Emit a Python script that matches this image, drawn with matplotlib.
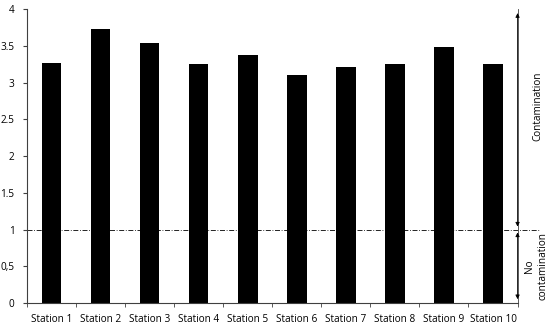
import numpy as np
import matplotlib.pyplot as plt

stations = ['Station 1', 'Station 2', 'Station 3', 'Station 4', 'Station 5',
            'Station 6', 'Station 7', 'Station 8', 'Station 9', 'Station 10']
values = [3.27, 3.73, 3.54, 3.26, 3.38, 3.10, 3.21, 3.25, 3.49, 3.26]
yticks = [0, 0.5, 1, 1.5, 2, 2.5, 3, 3.5, 4]
ytick_labels = ['0', '0,5', '1', '1.5', '2', '2.5', '3', '3.5', '4']
threshold = 1


def main():
    plt.rcParams['font.family'] = ['Open Sans', 'DejaVu Sans']

    fig = plt.figure(figsize=(5.5, 3.26), dpi=100)
    ax = fig.add_axes([0.049, 0.071, 0.892, 0.90])

    x = np.arange(len(stations))
    ax.bar(x, values, width=0.4, color='black')

    ax.set_xlim(-0.5, len(stations) - 0.5)
    ax.set_ylim(0, 4)

    ax.set_xticks(x)
    ax.set_xticklabels(stations, fontsize=7.2)
    ax.set_xticks(np.arange(len(stations) + 1) - 0.5, minor=True)
    ax.tick_params(axis='x', which='major', length=0, pad=8)
    ax.tick_params(axis='x', which='minor', length=3, direction='out', color='#404040')

    ax.set_yticks(yticks)
    ax.set_yticklabels(ytick_labels, fontsize=7.2)
    ax.tick_params(axis='y', length=3, color='#404040', pad=6)

    for side in ['top', 'right']:
        ax.spines[side].set_visible(False)
    for side in ['left', 'bottom']:
        ax.spines[side].set_color('#404040')
        ax.spines[side].set_linewidth(0.8)

    # threshold line
    xr = len(stations) - 0.5
    ax.plot([-0.5, xr + 0.45], [threshold, threshold], color='black', lw=0.6,
            linestyle=(0, (6, 2, 1, 2)), clip_on=False)

    # double arrows on the right
    ax.plot([xr, xr], [0, 4], color='#404040', lw=0.6, clip_on=False)
    arrow = dict(arrowstyle='<|-|>', color='black', lw=0.6,
                 mutation_scale=6, shrinkA=0, shrinkB=0)
    ax.annotate('', xy=(xr, 3.95), xytext=(xr, threshold + 0.04),
                arrowprops=arrow, annotation_clip=False)
    ax.annotate('', xy=(xr, threshold - 0.04), xytext=(xr, 0.05),
                arrowprops=arrow, annotation_clip=False)

    ax.text(xr + 0.42, 2.68, 'Contamination', rotation=90, fontsize=7.2,
            ha='center', va='center', clip_on=False)
    ax.text(xr + 0.38, 0.5, 'No\ncontamination', rotation=90, fontsize=7.2,
            ha='center', va='center', linespacing=1.3, clip_on=False)

    fig.savefig('out.png', dpi=100)


if __name__ == '__main__':
    main()
